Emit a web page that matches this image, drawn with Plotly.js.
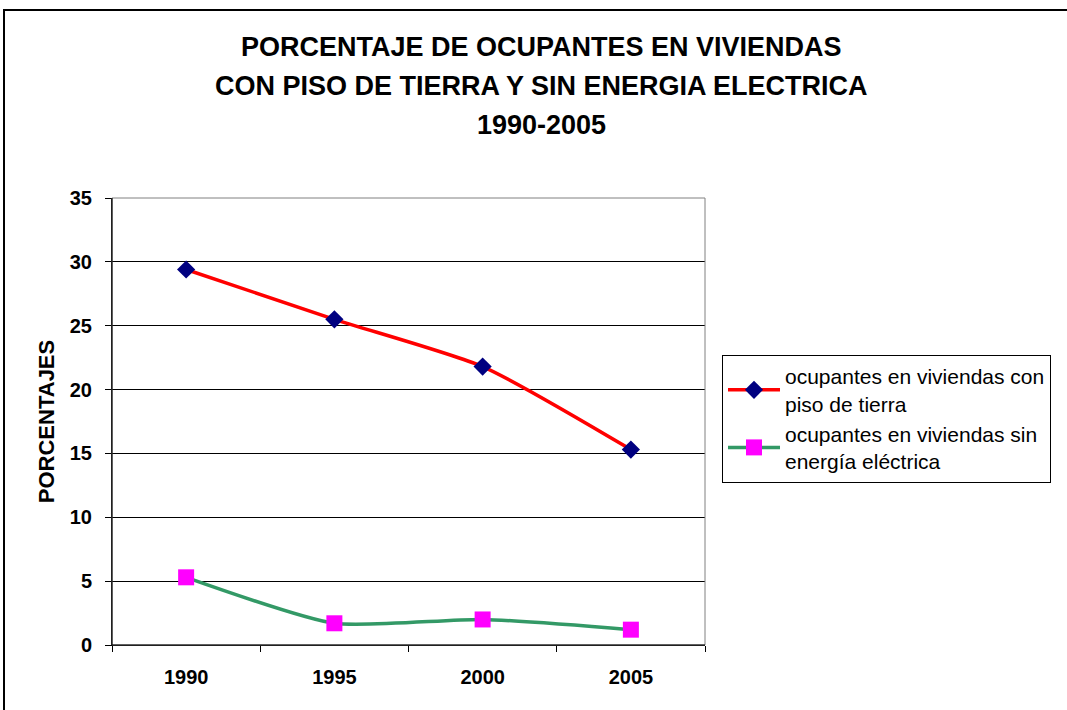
<!DOCTYPE html>
<html><head><meta charset="utf-8">
<script src="https://cdn.plot.ly/plotly-3.0.1.min.js"></script>
<style>html,body{margin:0;padding:0;background:#fff}#chart{width:1067px;height:710px}</style>
</head><body><div id="chart"></div>
<script>
const years = ["1990", "1995", "2000", "2005"];
const pisoTierra = [29.4, 25.5, 21.8, 15.3];
const sinEnergia = [5.3, 1.7, 2.0, 1.2];
const seriesNames = ["ocupantes en viviendas con<br>piso de tierra", "ocupantes en viviendas sin<br>energía eléctrica"];
const titleLines = ["PORCENTAJE DE OCUPANTES EN VIVIENDAS", "CON PISO DE TIERRA Y SIN ENERGIA ELECTRICA", "1990-2005"];
const yTickVals = [0, 5, 10, 15, 20, 25, 30, 35];

const F = "Arial, 'Liberation Sans', sans-serif";
const L = 112, R = 705, T = 198, B = 645, W = 1067, H = 710;
const pw = R - L, ph = B - T;
const px = x => (x - L) / pw;
const py = y => (B - y) / ph;

const traces = [
  {x: years, y: pisoTierra, name: seriesNames[0], type: "scatter", mode: "lines+markers",
   line: {color: "#FF0000", width: 3.5, shape: "spline", smoothing: 0.6},
   marker: {symbol: "diamond", color: "#000080", size: 14}},
  {x: years, y: sinEnergia, name: seriesNames[1], type: "scatter", mode: "lines+markers",
   line: {color: "#339966", width: 3.5, shape: "spline", smoothing: 0.6},
   marker: {symbol: "square", color: "#FF00FF", size: 16}}
];

const titleY = [47, 86, 125];
const annotations = titleLines.map((t, i) => ({
  text: "<b>" + t + "</b>", xref: "paper", yref: "paper", x: px(541), y: py(titleY[i]),
  xanchor: "center", yanchor: "middle", showarrow: false, font: {family: F, size: 27, color: "#000"}
}));

const layout = {
  width: W, height: H, margin: {l: L, r: W - R, t: T, b: H - B, pad: 0},
  paper_bgcolor: "#fff", plot_bgcolor: "#fff", showlegend: true,
  font: {family: F, color: "#000"},
  xaxis: {type: "category", range: [-0.5, 3.5], tickson: "boundaries", ticks: "outside", ticklen: 6,
    tickcolor: "#000", showgrid: false, showline: true, linecolor: "#000", linewidth: 1,
    tickfont: {family: F, size: 20, color: "#000", weight: "bold"}, ticklabelstandoff: 14, zeroline: false},
  yaxis: {range: [0, 35], tickvals: yTickVals, ticks: "outside", ticklen: 6, tickcolor: "#000",
    showgrid: true, gridcolor: "#000", gridwidth: 1, showline: true, linecolor: "#000", linewidth: 1,
    zeroline: false, tickfont: {family: F, size: 20, color: "#000", weight: "bold"}, ticklabelstandoff: 9,
    title: {text: "<b>PORCENTAJES</b>", font: {family: F, size: 22, color: "#000"}, standoff: 9}},
  legend: {x: px(722), y: py(355), xanchor: "left", yanchor: "top", bordercolor: "#000", borderwidth: 1,
    bgcolor: "#fff", font: {family: F, size: 21, color: "#000"}, itemwidth: 52, tracegroupgap: 13},
  annotations: annotations,
  shapes: [
    {type: "rect", xref: "paper", yref: "paper", x0: 0, x1: 1, y0: 0, y1: 1, layer: "above",
     line: {color: "#808080", width: 1}},
    {type: "line", xref: "paper", yref: "paper", x0: 0, x1: 0, y0: 0, y1: 1, layer: "above", line: {color: "#000", width: 1}},
    {type: "line", xref: "paper", yref: "paper", x0: 0, x1: 1, y0: 0, y1: 0, layer: "above", line: {color: "#000", width: 1}},
    {type: "rect", xref: "paper", yref: "paper", x0: px(4), x1: px(1100), y0: py(740), y1: py(10),
     line: {color: "#000", width: 2}}
  ]
};
Plotly.newPlot("chart", traces, layout, {displayModeBar: false, staticPlot: true});
</script></body></html>
